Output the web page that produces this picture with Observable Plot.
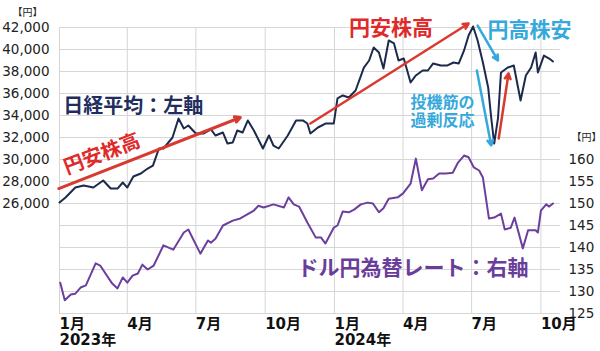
<!DOCTYPE html>
<html><head><meta charset="utf-8">
<script src="https://cdn.jsdelivr.net/npm/d3@7"></script>
<script src="https://cdn.jsdelivr.net/npm/@observablehq/plot@0.6"></script>
<style>html,body{margin:0;padding:0;background:#fff;}</style>
</head><body><div id="chart"></div>
<script>
const nikkeiDates = ["2023-01-01","2023-01-09","2023-01-22","2023-02-02","2023-02-15","2023-02-28","2023-03-10","2023-03-19","2023-03-26","2023-04-01","2023-04-09","2023-04-19","2023-04-28","2023-05-05","2023-05-13","2023-05-19","2023-05-31","2023-06-08","2023-06-15","2023-06-21","2023-07-01","2023-07-11","2023-07-21","2023-07-27","2023-08-06","2023-08-12","2023-08-19","2023-08-25","2023-09-01","2023-09-08","2023-09-16","2023-09-28","2023-10-06","2023-10-12","2023-10-19","2023-10-31","2023-11-11","2023-11-20","2023-11-26","2023-11-30","2023-12-10","2023-12-20","2023-12-31","2024-01-05","2024-01-12","2024-01-20","2024-01-29","2024-02-09","2024-02-16","2024-02-22","2024-02-29","2024-03-06","2024-03-13","2024-03-20","2024-03-26","2024-04-02","2024-04-11","2024-04-18","2024-04-27","2024-05-04","2024-05-11","2024-05-21","2024-05-30","2024-06-07","2024-06-14","2024-06-21","2024-06-27","2024-07-03","2024-07-09","2024-07-16","2024-07-23","2024-07-27","2024-07-31","2024-08-05","2024-08-09","2024-08-18","2024-08-26","2024-09-04","2024-09-11","2024-09-18","2024-09-24","2024-09-27","2024-10-05","2024-10-12","2024-10-17"];
const nikkeiValues = [26090,26550,27450,27640,27450,28090,27360,27360,27910,27450,28450,28730,29180,29450,31000,31000,32000,33730,32820,33090,32360,32360,32730,32180,32450,31450,31550,32640,32450,33550,32640,31000,32180,31270,31000,32180,33550,33550,33270,32360,32910,33270,33270,35550,35820,35640,36270,38360,39000,40180,39730,38270,40820,40550,39000,39180,37000,37640,38090,38090,38730,38550,38550,38820,38730,39910,41270,42090,40820,38820,36550,33820,31450,33730,37910,38360,38550,35360,37640,38360,39730,37910,39450,39180,38910];

const usdDates = ["2023-01-02","2023-01-08","2023-01-16","2023-01-22","2023-01-29","2023-02-05","2023-02-18","2023-02-24","2023-03-12","2023-03-19","2023-03-26","2023-04-01","2023-04-08","2023-04-15","2023-04-21","2023-04-28","2023-05-06","2023-05-19","2023-06-01","2023-06-15","2023-06-21","2023-07-07","2023-07-17","2023-07-21","2023-07-27","2023-08-06","2023-08-19","2023-08-29","2023-09-09","2023-09-16","2023-09-22","2023-09-29","2023-10-12","2023-10-26","2023-11-01","2023-11-08","2023-11-15","2023-11-26","2023-12-07","2023-12-14","2023-12-20","2023-12-31","2024-01-05","2024-01-12","2024-01-20","2024-01-27","2024-02-05","2024-02-14","2024-02-21","2024-02-29","2024-03-06","2024-03-13","2024-03-25","2024-04-01","2024-04-11","2024-04-18","2024-04-26","2024-05-04","2024-05-11","2024-05-19","2024-05-28","2024-06-06","2024-06-13","2024-06-21","2024-06-27","2024-07-04","2024-07-11","2024-07-16","2024-07-24","2024-07-31","2024-08-09","2024-08-14","2024-08-22","2024-08-27","2024-09-07","2024-09-14","2024-09-24","2024-09-27","2024-10-01","2024-10-08","2024-10-12","2024-10-17"];
const usdValues = [132.0,128.0,129.3,129.5,130.9,131.4,136.4,135.9,131.8,130.7,133.2,132.0,133.6,134.1,136.1,135.0,135.9,140.5,139.5,143.4,144.1,138.6,141.6,141.1,142.0,145.0,146.1,146.6,147.7,148.4,149.5,149.1,149.8,149.1,151.4,149.8,149.3,145.7,142.3,142.3,140.9,144.5,145.0,148.2,148.0,148.6,149.8,150.2,150.0,148.0,148.9,151.1,151.4,152.3,154.5,160.2,153.0,155.5,155.7,156.8,156.8,157.0,159.3,160.9,160.5,158.2,157.5,155.9,146.6,146.8,147.7,144.1,144.5,146.8,139.8,143.9,143.9,143.4,148.4,149.8,149.3,150.0];

const quarterTicks = ["2023-01-01","2023-04-01","2023-07-01","2023-10-01","2024-01-01","2024-04-01","2024-07-01","2024-10-01"];
const leftTicks = [26000,28000,30000,32000,34000,36000,38000,40000,42000];
const rightTicks = [125,130,135,140,145,150,155,160];
const gridTicks = [16000,18000,20000,22000,24000,26000,28000,30000,32000,34000,36000,38000,40000,42000];

// annotations (data space)
const arrowStart = [["2022-12-31",27360],["2023-11-30",33270],["2024-07-09",42180],["2024-07-08",38090],["2024-08-06",31910]];
const arrowEnd   = [["2023-08-29",33820],["2024-06-27",42360],["2024-08-05",39000],["2024-07-27",31270],["2024-08-19",37820]];
const arrowColors = ["#d93a30","#d93a30","#35a9dc","#35a9dc","#d93a30"];

const labelTexts = ["日経平均：左軸","円安株高","円安株高","円高株安","投機筋の\n過剰反応"];
const labelPos = [["2023-01-06",34900],["2023-02-26",30550],["2024-03-16",42000],["2024-09-16",41820],["2024-04-11",34360]];
const labelColors = ["#1f2e5e","#e02a2a","#e02a2a","#35a9dc","#35a9dc"];
const labelSizes = [20,20,21,21,16];
const labelRotate = [0,-21,0,0,0];
const labelAnchor = ["start","middle","middle","middle","start"];

const usdLabel = {text:"ドル円為替レート：右軸", date:"2023-11-13", value:135.2};

const parse = d3.utcParse("%Y-%m-%d");
const toLeft = d3.scaleLinear().domain([125,190]).range([16000,42000]);

const nikkei = nikkeiDates.map((d,i)=>({date:parse(d), value:nikkeiValues[i]}));
const usd = usdDates.map((d,i)=>({date:parse(d), value:toLeft(usdValues[i])}));
const arrows = arrowStart.map((s,i)=>({x1:parse(s[0]), y1:s[1], x2:parse(arrowEnd[i][0]), y2:arrowEnd[i][1], c:arrowColors[i], w: i===0?3:2.5}));
const labels = labelTexts.map((t,i)=>({text:t, x:parse(labelPos[i][0]), y:labelPos[i][1], c:labelColors[i], s:labelSizes[i], r:labelRotate[i], a:labelAnchor[i]}));

const cjk = "'Noto Sans CJK JP', sans-serif";
const num = "'DejaVu Sans', 'Noto Sans CJK JP', sans-serif";

const textMarks = labels.map(l => Plot.text([l], {x:"x", y:"y", text:"text", fill:l.c, fontSize:l.s, fontWeight:"bold", fontFamily:cjk, rotate:l.r, textAnchor:l.a, lineAnchor:"middle", lineHeight:1.12}));

const chart = Plot.plot({
  width:600, height:351,
  marginTop:27, marginBottom:38, marginLeft:59, marginRight:40,
  x:{type:"utc", domain:[parse("2023-01-01"), parse("2024-10-27")], axis:null},
  y:{domain:[16000,42000], axis:null, label:null},
  style:{fontFamily:num, background:"#fff", overflow:"visible"},
  marks:[
    Plot.gridY(gridTicks, {stroke:"#d6d6d6", strokeOpacity:1}),
    Plot.gridX(quarterTicks.map(parse), {stroke:"#d6d6d6", strokeOpacity:1}),
    Plot.axisY({ticks:leftTicks, tickSize:0, tickPadding:10, tickFormat:d3.format(","), fontSize:13.5, fill:"#222", label:null}),
    Plot.axisY({anchor:"right", ticks:rightTicks.map(toLeft), tickSize:0, tickPadding:8, tickFormat:d=>String(Math.round(toLeft.invert(d))), fontSize:13.5, fill:"#222", label:null}),
    Plot.axisX({ticks:quarterTicks.map(parse), tickSize:0, tickPadding:4, textAnchor:"start", fontSize:15, fontWeight:"bold", fill:"#111", lineHeight:1.07,
      tickFormat:d=>{const m=d.getUTCMonth()+1; return m===1 ? `1月\n${d.getUTCFullYear()}年` : `${m}月`;}, label:null}),
    Plot.text(["【円】"], {frameAnchor:"top-left", dx:-32, dy:-19, fontSize:10, fill:"#222", fontFamily:cjk, textAnchor:"middle"}),
    Plot.text(["【円】"], {frameAnchor:"right", y:[toLeft(165)], dx:26, fontSize:10, fill:"#222", fontFamily:cjk, textAnchor:"middle"}),
    Plot.line(usd, {x:"date", y:"value", stroke:"#6c3f9e", strokeWidth:2}),
    Plot.line(nikkei, {x:"date", y:"value", stroke:"#1c2a4c", strokeWidth:2}),
    Plot.arrow(arrows, {x1:"x1", y1:"y1", x2:"x2", y2:"y2", stroke:d=>d.c, strokeWidth:d=>d.w, headLength:9, headAngle:55}),
    ...textMarks,
    Plot.text([usdLabel], {x:d=>parse(d.date), y:d=>toLeft(d.value), text:"text", fill:"#6a3d9a", fontSize:21, fontWeight:"bold", fontFamily:cjk, textAnchor:"start", lineAnchor:"middle"})
  ]
});
document.getElementById("chart").appendChild(chart);
</script>
</body></html>
